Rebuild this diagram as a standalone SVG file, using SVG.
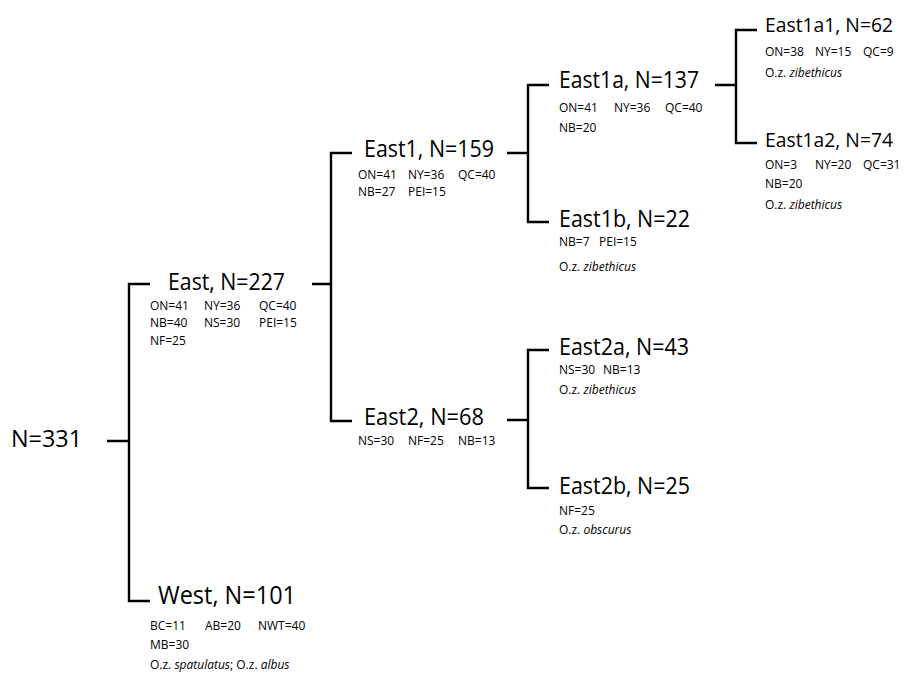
<svg xmlns="http://www.w3.org/2000/svg" width="908" height="678" viewBox="0 0 908 678">
<style>
.h{font-family:"Open Sans","Noto Sans",sans-serif;font-size:23px;fill:#000}
.h2{font-size:20px}
.hw{font-size:25px}
.s{font-family:"Open Sans","Noto Sans",sans-serif;font-size:12px;fill:#000}
.i{font-style:italic}
.c{fill:none;stroke:#000;stroke-width:2.4}
</style>
<rect width="908" height="678" fill="#fff"/>
<g id="connectors">
<path class="c" d="M107,441H129M150,284H129V601H150"/>
<path class="c" d="M312,284H331M352,153H331V421H352"/>
<path class="c" d="M507,153H528M549,85H528V222H549"/>
<path class="c" d="M715,85H736M757,30H736V143H757"/>
<path class="c" d="M507,420H528M549,350H528V488H549"/>
</g>
<g id="root"><text class="h" x="11" y="447" textLength="71" lengthAdjust="spacingAndGlyphs">N=331</text></g>
<g id="east">
<text class="h" x="168" y="290" textLength="117" lengthAdjust="spacingAndGlyphs">East, N=227</text>
<text class="s" y="310"><tspan x="150">ON=41</tspan><tspan x="204">NY=36</tspan><tspan x="259">QC=40</tspan></text>
<text class="s" y="327"><tspan x="150">NB=40</tspan><tspan x="204">NS=30</tspan><tspan x="259">PEI=15</tspan></text>
<text class="s" x="150" y="345">NF=25</text>
</g>
<g id="west">
<text class="h hw" x="158" y="604" textLength="138" lengthAdjust="spacingAndGlyphs">West, N=101</text>
<text class="s" y="630"><tspan x="150">BC=11</tspan><tspan x="205">AB=20</tspan><tspan x="258">NWT=40</tspan></text>
<text class="s" x="150" y="649">MB=30</text>
<text class="s" x="150" y="669">O.z. <tspan class="i">spatulatus</tspan>; O.z. <tspan class="i">albus</tspan></text>
</g>
<g id="east1">
<text class="h" x="364" y="157" textLength="130" lengthAdjust="spacingAndGlyphs">East1, N=159</text>
<text class="s" y="179"><tspan x="358">ON=41</tspan><tspan x="408">NY=36</tspan><tspan x="458">QC=40</tspan></text>
<text class="s" y="196"><tspan x="358">NB=27</tspan><tspan x="408">PEI=15</tspan></text>
</g>
<g id="east2">
<text class="h" x="364" y="425" textLength="120" lengthAdjust="spacingAndGlyphs">East2, N=68</text>
<text class="s" y="445"><tspan x="358">NS=30</tspan><tspan x="408">NF=25</tspan><tspan x="458">NB=13</tspan></text>
</g>
<g id="east1a">
<text class="h" x="559" y="88" textLength="140" lengthAdjust="spacingAndGlyphs">East1a, N=137</text>
<text class="s" y="112"><tspan x="559">ON=41</tspan><tspan x="614">NY=36</tspan><tspan x="665">QC=40</tspan></text>
<text class="s" x="559" y="132">NB=20</text>
</g>
<g id="east1b">
<text class="h" x="559" y="227" textLength="131" lengthAdjust="spacingAndGlyphs">East1b, N=22</text>
<text class="s" y="246"><tspan x="559">NB=7</tspan><tspan x="599">PEI=15</tspan></text>
<text class="s" x="559" y="271">O.z. <tspan class="i">zibethicus</tspan></text>
</g>
<g id="east1a1">
<text class="h h2" x="765" y="32" textLength="128" lengthAdjust="spacingAndGlyphs">East1a1, N=62</text>
<text class="s" y="56"><tspan x="765">ON=38</tspan><tspan x="815">NY=15</tspan><tspan x="863">QC=9</tspan></text>
<text class="s" x="765" y="77">O.z. <tspan class="i">zibethicus</tspan></text>
</g>
<g id="east1a2">
<text class="h h2" x="765" y="147" textLength="128" lengthAdjust="spacingAndGlyphs">East1a2, N=74</text>
<text class="s" y="169"><tspan x="765">ON=3</tspan><tspan x="815">NY=20</tspan><tspan x="863">QC=31</tspan></text>
<text class="s" x="765" y="188">NB=20</text>
<text class="s" x="765" y="209">O.z. <tspan class="i">zibethicus</tspan></text>
</g>
<g id="east2a">
<text class="h" x="559" y="355" textLength="130" lengthAdjust="spacingAndGlyphs">East2a, N=43</text>
<text class="s" y="374"><tspan x="559">NS=30</tspan><tspan x="603">NB=13</tspan></text>
<text class="s" x="559" y="394">O.z. <tspan class="i">zibethicus</tspan></text>
</g>
<g id="east2b">
<text class="h" x="559" y="494" textLength="131" lengthAdjust="spacingAndGlyphs">East2b, N=25</text>
<text class="s" x="559" y="515">NF=25</text>
<text class="s" x="559" y="534">O.z. <tspan class="i">obscurus</tspan></text>
</g>
</svg>
